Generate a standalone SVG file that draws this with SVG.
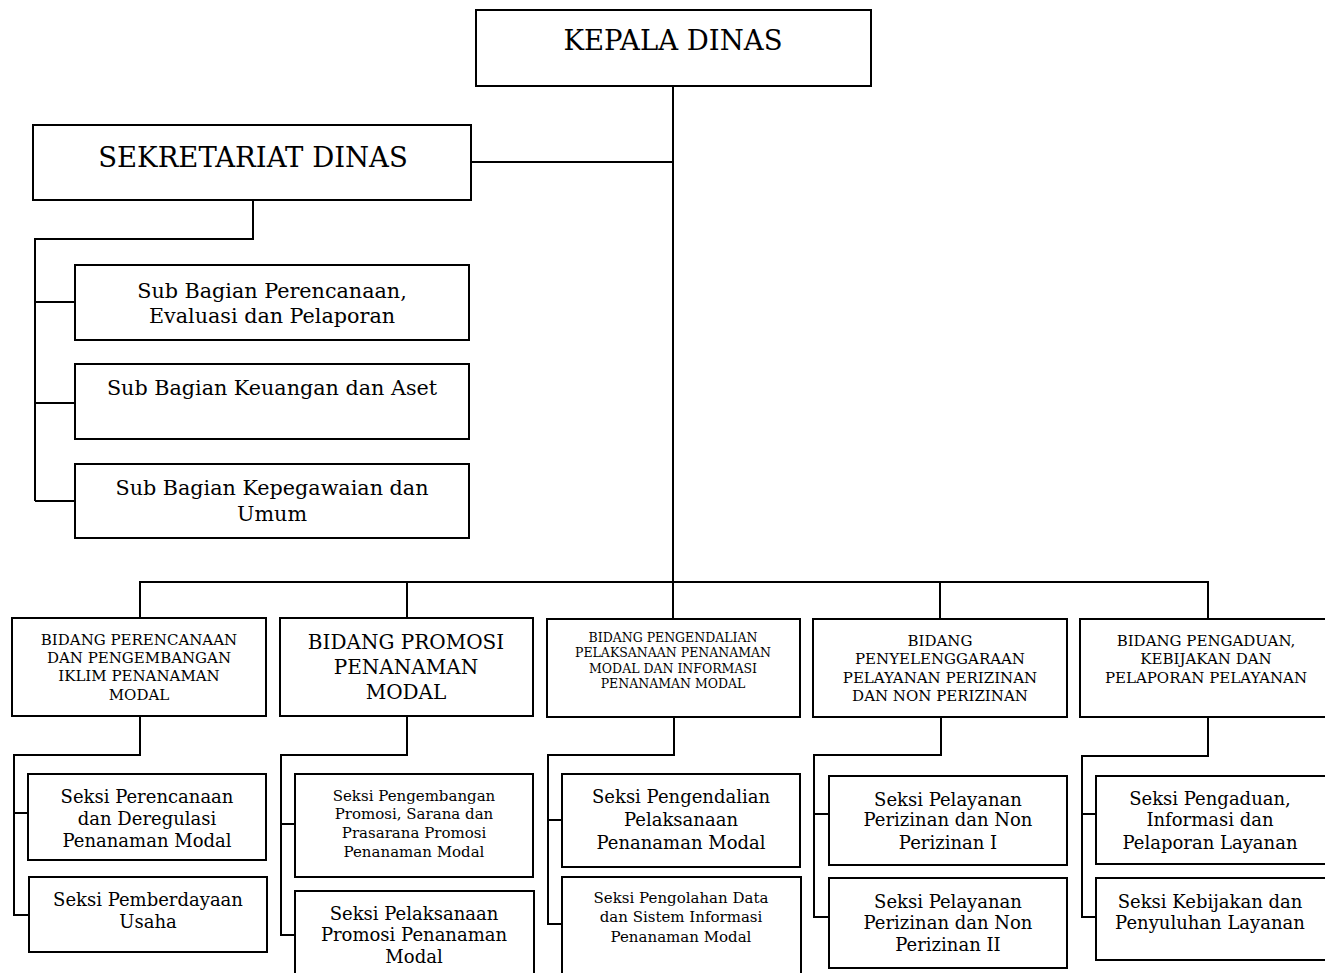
<svg xmlns="http://www.w3.org/2000/svg" width="1325" height="973" viewBox="0 0 1325 973">
<style>
rect{fill:#fff;stroke:#000;stroke-width:2}
.c path{fill:none;stroke:#000;stroke-width:2}
text{font-family:"DejaVu Serif","Liberation Serif",serif;fill:#000;text-anchor:middle}
.t1{font-size:27.5px}
.t2{font-size:20.7px}
.b1{font-size:15px}
.b2{font-size:20px}
.b3{font-size:12.5px}
.s1{font-size:18px}
.s2{font-size:15px}
</style>
<g class="c" id="connectors">
<path d="M673 86V582"/>
<path d="M471 162H673"/>
<path d="M253 200V239H35V501"/>
<path d="M35 302H75M35 403H75M35 501H75"/>
<path d="M140 618V582H1208V619M407 582V618M673 582V619M940 582V619"/>
<path d="M140 716V755H14V915H28M14 813H28"/>
<path d="M407 716V755H281V935H295M281 824H295"/>
<path d="M674 717V755H548V924H562M548 820H562"/>
<path d="M941 717V755H814V917H829M814 814H829"/>
<path d="M1208 717V756H1082V917H1096M1082 814H1096"/>
</g>
<g id="kepala"><rect x="476" y="10" width="395" height="76"/><text class="t1" x="673" y="50">KEPALA DINAS</text></g>
<g id="sekretariat"><rect x="33" y="125" width="438" height="75"/><text class="t1" x="253" y="167">SEKRETARIAT DINAS</text></g>
<g id="sub1"><rect x="75" y="265" width="394" height="75"/><text class="t2" x="272" y="298">Sub Bagian Perencanaan,</text><text class="t2" x="272" y="323">Evaluasi dan Pelaporan</text></g>
<g id="sub2"><rect x="75" y="364" width="394" height="75"/><text class="t2" x="272" y="395">Sub Bagian Keuangan dan Aset</text></g>
<g id="sub3"><rect x="75" y="464" width="394" height="74"/><text class="t2" x="272" y="495">Sub Bagian Kepegawaian dan</text><text class="t2" x="272" y="521">Umum</text></g>
<g id="bidang1"><rect x="12" y="618" width="254" height="98"/><text class="b1" x="139" y="645">BIDANG PERENCANAAN</text><text class="b1" x="139" y="663">DAN PENGEMBANGAN</text><text class="b1" x="139" y="681">IKLIM PENANAMAN</text><text class="b1" x="139" y="700">MODAL</text></g>
<g id="bidang2"><rect x="280" y="618" width="253" height="98"/><text class="b2" x="406" y="649">BIDANG PROMOSI</text><text class="b2" x="406" y="674">PENANAMAN</text><text class="b2" x="406" y="699">MODAL</text></g>
<g id="bidang3"><rect x="547" y="619" width="253" height="98"/><text class="b3" x="673" y="642">BIDANG PENGENDALIAN</text><text class="b3" x="673" y="657">PELAKSANAAN PENANAMAN</text><text class="b3" x="673" y="673">MODAL DAN INFORMASI</text><text class="b3" x="673" y="688">PENANAMAN MODAL</text></g>
<g id="bidang4"><rect x="813" y="619" width="254" height="98"/><text class="b1" x="940" y="646">BIDANG</text><text class="b1" x="940" y="664">PENYELENGGARAAN</text><text class="b1" x="940" y="683">PELAYANAN PERIZINAN</text><text class="b1" x="940" y="701">DAN NON PERIZINAN</text></g>
<g id="bidang5"><rect x="1080" y="619" width="250" height="98"/><text class="b1" x="1206" y="646">BIDANG PENGADUAN,</text><text class="b1" x="1206" y="664">KEBIJAKAN DAN</text><text class="b1" x="1206" y="683">PELAPORAN PELAYANAN</text></g>
<g id="seksi1a"><rect x="28" y="774" width="238" height="86"/><text class="s1" x="147" y="803">Seksi Perencanaan</text><text class="s1" x="147" y="825">dan Deregulasi</text><text class="s1" x="147" y="847">Penanaman Modal</text></g>
<g id="seksi1b"><rect x="29" y="877" width="238" height="75"/><text class="s1" x="148" y="906">Seksi Pemberdayaan</text><text class="s1" x="148" y="928">Usaha</text></g>
<g id="seksi2a"><rect x="295" y="774" width="238" height="103"/><text class="s2" x="414" y="801">Seksi Pengembangan</text><text class="s2" x="414" y="819">Promosi, Sarana dan</text><text class="s2" x="414" y="838">Prasarana Promosi</text><text class="s2" x="414" y="857">Penanaman Modal</text></g>
<g id="seksi2b"><rect x="295" y="891" width="239" height="100"/><text class="s1" x="414" y="920">Seksi Pelaksanaan</text><text class="s1" x="414" y="941">Promosi Penanaman</text><text class="s1" x="414" y="963">Modal</text></g>
<g id="seksi3a"><rect x="562" y="774" width="238" height="93"/><text class="s1" x="681" y="803">Seksi Pengendalian</text><text class="s1" x="681" y="826">Pelaksanaan</text><text class="s1" x="681" y="849">Penanaman Modal</text></g>
<g id="seksi3b"><rect x="562" y="877" width="239" height="110"/><text class="s2" x="681" y="903">Seksi Pengolahan Data</text><text class="s2" x="681" y="922">dan Sistem Informasi</text><text class="s2" x="681" y="942">Penanaman Modal</text></g>
<g id="seksi4a"><rect x="829" y="776" width="238" height="89"/><text class="s1" x="948" y="806">Seksi Pelayanan</text><text class="s1" x="948" y="826">Perizinan dan Non</text><text class="s1" x="948" y="849">Perizinan I</text></g>
<g id="seksi4b"><rect x="829" y="878" width="238" height="90"/><text class="s1" x="948" y="908">Seksi Pelayanan</text><text class="s1" x="948" y="929">Perizinan dan Non</text><text class="s1" x="948" y="951">Perizinan II</text></g>
<g id="seksi5a"><rect x="1096" y="776" width="234" height="88"/><text class="s1" x="1210" y="805">Seksi Pengaduan,</text><text class="s1" x="1210" y="826">Informasi dan</text><text class="s1" x="1210" y="849">Pelaporan Layanan</text></g>
<g id="seksi5b"><rect x="1096" y="878" width="234" height="82"/><text class="s1" x="1210" y="908">Seksi Kebijakan dan</text><text class="s1" x="1210" y="929">Penyuluhan Layanan</text></g>
</svg>
